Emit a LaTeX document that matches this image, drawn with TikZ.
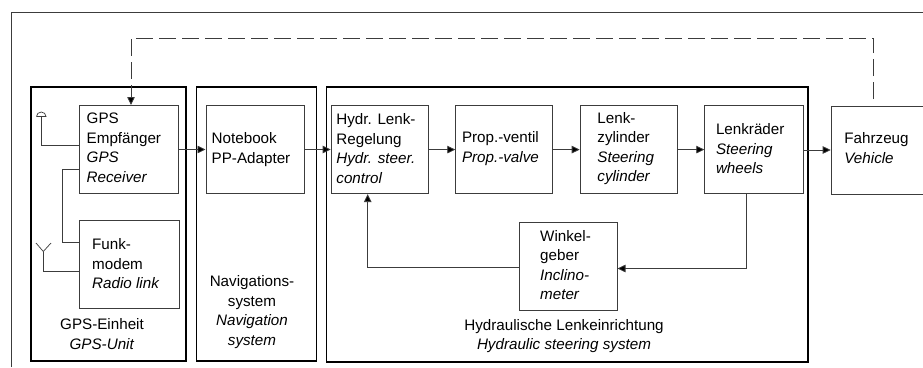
\documentclass[tikz,border=0pt]{standalone}
\usepackage{fontspec}
\setmainfont{Liberation Sans}
\usetikzlibrary{arrows.meta,calc}
\definecolor{linegray}{HTML}{3C3C3C}
\definecolor{ink}{HTML}{000000}
\tikzset{
  bx/.style={draw=linegray,line width=0.8pt,inner sep=0pt,anchor=north west},
  grpframe/.style={draw=ink,line width=1.8pt,inner sep=0pt,anchor=north west},
  lab/.style={anchor=west,inner sep=0pt,align=left,text=ink,font=\fontsize{15.2}{19.5}\selectfont},
  captxt/.style={inner sep=0pt,align=center,text=ink,font=\fontsize{15.2}{19.5}\selectfont},
  conn/.style={draw=linegray,line width=0.8pt},
  arr/.style={conn,-{Triangle[length=8pt,width=7.5pt,fill=black]}},
  dsh/.style={conn,dash pattern=on 17pt off 6pt}
}
\begin{document}
\begin{tikzpicture}[x=1pt,y=-1pt]
\useasboundingbox (0,0) rectangle (923,367);
\fill[white] (0,0) rectangle (923,367);
% sheet border
\coordinate (sheetA) at (11,367); \coordinate (sheetB) at (11,12.5); \coordinate (sheetC) at (923,12.5);
\draw[draw=linegray,line width=1pt] (sheetA) -- (sheetB) -- (sheetC);
% group frames
\node[grpframe,minimum width=155pt,minimum height=274pt] (fgps) at (30,86) {};
\node[grpframe,minimum width=120pt,minimum height=274pt] (fnav) at (195.5,86) {};
\node[grpframe,minimum width=481.5pt,minimum height=275pt] (fhyd) at (325.5,86) {};
% boxes
\node[bx,minimum width=99.5pt,minimum height=88pt] (gps) at (78.5,105) {};
\node[bx,minimum width=100pt,minimum height=88pt] (funk) at (79,219.5) {};
\node[bx,minimum width=98.5pt,minimum height=88pt] (nb) at (205.5,105) {};
\node[bx,minimum width=97.6pt,minimum height=88pt] (reg) at (330.7,105.3) {};
\node[bx,minimum width=97pt,minimum height=88pt] (prop) at (455.3,105.3) {};
\node[bx,minimum width=97.6pt,minimum height=88pt] (zyl) at (579.7,105.3) {};
\node[bx,minimum width=99pt,minimum height=88pt] (rad) at (704.3,105.3) {};
\node[bx,minimum width=97pt,minimum height=88pt] (fz) at (830.7,105.5) {};
\node[bx,minimum width=97.7pt,minimum height=88.3pt] (wink) at (519,222) {};
% box texts
\node[lab] (tgps) at ([xshift=8pt,yshift=1.5pt]gps.west) {GPS\\Empfänger\\\textit{GPS}\\\textit{Receiver}};
\node[lab] (tfunk) at ([xshift=13pt,yshift=0pt]funk.west) {Funk-\\modem\\\textit{Radio link}};
\node[lab] (tnb) at ([xshift=6pt,yshift=0pt]nb.west) {Notebook\\PP-Adapter};
\node[lab] (treg) at ([xshift=5.5pt,yshift=1pt]reg.west) {Hydr. Lenk-\\Regelung\\\textit{Hydr. steer.}\\\textit{control}};
\node[lab] (tprop) at ([xshift=6.5pt,yshift=1pt]prop.west) {Prop.-ventil\\\textit{Prop.-valve}};
\node[lab] (tzyl) at ([xshift=17.5pt,yshift=1pt]zyl.west) {Lenk-\\zylinder\\\textit{Steering}\\\textit{cylinder}};
\node[lab] (trad) at ([xshift=11.5pt,yshift=1pt]rad.west) {Lenkräder\\\textit{Steering}\\\textit{wheels}};
\node[lab] (tfz) at ([xshift=13.5pt,yshift=2pt]fz.west) {Fahrzeug\\\textit{Vehicle}};
\node[lab] (twink) at ([xshift=21pt,yshift=1.5pt]wink.west) {Winkel-\\geber\\\textit{Inclino-}\\\textit{meter}};
% captions
\node[captxt] (cgps) at (102,334) {GPS-Einheit\\\textit{GPS-Unit}};
\node[captxt] (cnav) at (252,312) {Navigations-\\system\\\textit{Navigation}\\\textit{system}};
\node[captxt] (chyd) at (564,336) {Hydraulische Lenkeinrichtung\\\textit{Hydraulic steering system}};
% forward arrows
\draw[arr] (gps.east |- 0,149.5) -- (nb.west |- 0,149.5);
\draw[arr] (nb.east |- 0,149.5) -- (reg.west |- 0,149.5);
\draw[arr] (reg.east |- 0,149.6) -- (prop.west |- 0,149.6);
\draw[arr] (prop.east |- 0,149.6) -- (zyl.west |- 0,149.6);
\draw[arr] (zyl.east |- 0,149.6) -- (rad.west |- 0,149.6);
\draw[arr] (rad.east |- 0,150) -- (fz.west |- 0,150);
% feedback
\draw[arr] (746.3,0 |- rad.south) -- (746.3,268.5) -- (wink.east |- 0,268.5);
\draw[arr] (wink.west |- 0,267.7) -- (367.7,267.7) -- (367.7,0 |- reg.south);
% dashed
\coordinate (dstart) at (873.7,99);
\draw[dsh] (dstart) -- (873.7,38) -- (131,38) -- (131,97);
\draw[arr] (131,97) -- (131,0 |- gps.north);
% antenna dome
\coordinate (ant1) at (41.3,116.5);
\draw[conn] (ant1) -- (41.3,145) -- (gps.west |- 0,145);
\draw[draw=linegray,line width=0.7pt] (36.5,116.5) -- (46,116.5) arc[start angle=0,end angle=-180,x radius=4.75pt,y radius=-4.5pt];
% link GPS to modem
\draw[conn] (gps.west |- 0,169.5) -- (62.7,169.5) -- (62.7,242) -- (funk.west |- 0,242);
% antenna fork
\coordinate (ant2) at (43.3,251.5);
\draw[conn] (funk.west |- 0,271.5) -- (43.3,271.5) -- (ant2);
\draw[draw=linegray,line width=0.7pt] (36,243) -- (ant2) -- (51,243);
\end{tikzpicture}
\end{document}
